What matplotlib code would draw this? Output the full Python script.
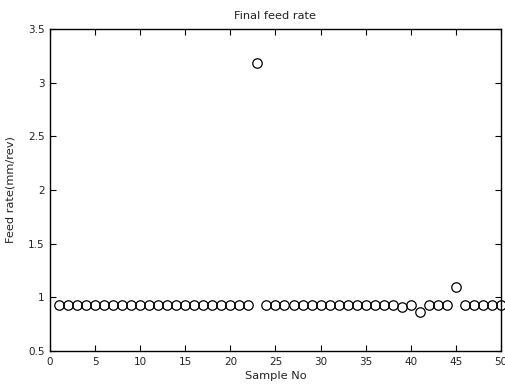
import matplotlib
matplotlib.use("Agg")
import matplotlib.pyplot as plt

sample_no = list(range(1, 51))
feed_rate = [0.93] * 50
feed_rate[22] = 3.18   # sample 23
feed_rate[38] = 0.91   # sample 39
feed_rate[40] = 0.86   # sample 41
feed_rate[44] = 1.10   # sample 45

x_ticks = [0, 5, 10, 15, 20, 25, 30, 35, 40, 45, 50]
y_ticks = [0.5, 1, 1.5, 2, 2.5, 3, 3.5]
y_tick_labels = ['0.5', '1', '1.5', '2', '2.5', '3', '3.5']

plt.rcParams['font.family'] = ['DejaVu Sans']
text_color = '#222222'

fig = plt.figure(figsize=(5.06, 3.85), dpi=100)
ax = fig.add_axes([0.0988, 0.0883, 0.8912, 0.8364])
ax.plot(sample_no, feed_rate, linestyle='none', marker='o', markersize=6.8,
        markerfacecolor='none', markeredgecolor='black', markeredgewidth=0.9,
        clip_on=False)
ax.set_xlim(0, 50)
ax.set_ylim(0.5, 3.5)
ax.set_xticks(x_ticks)
ax.set_yticks(y_ticks)
ax.set_yticklabels(y_tick_labels)
ax.tick_params(direction='in', top=True, right=True, length=4, width=0.8,
               labelsize=7.5, pad=4, labelcolor=text_color)
for s in ax.spines.values():
    s.set_linewidth(1.0)
ax.set_title('Final feed rate', fontsize=8.2, pad=7, color=text_color)
ax.set_xlabel('Sample No', fontsize=8.2, labelpad=3, color=text_color)
ax.set_ylabel('Feed rate(mm/rev)', fontsize=8.2, labelpad=9, color=text_color)
fig.savefig('out.png', dpi=100)
